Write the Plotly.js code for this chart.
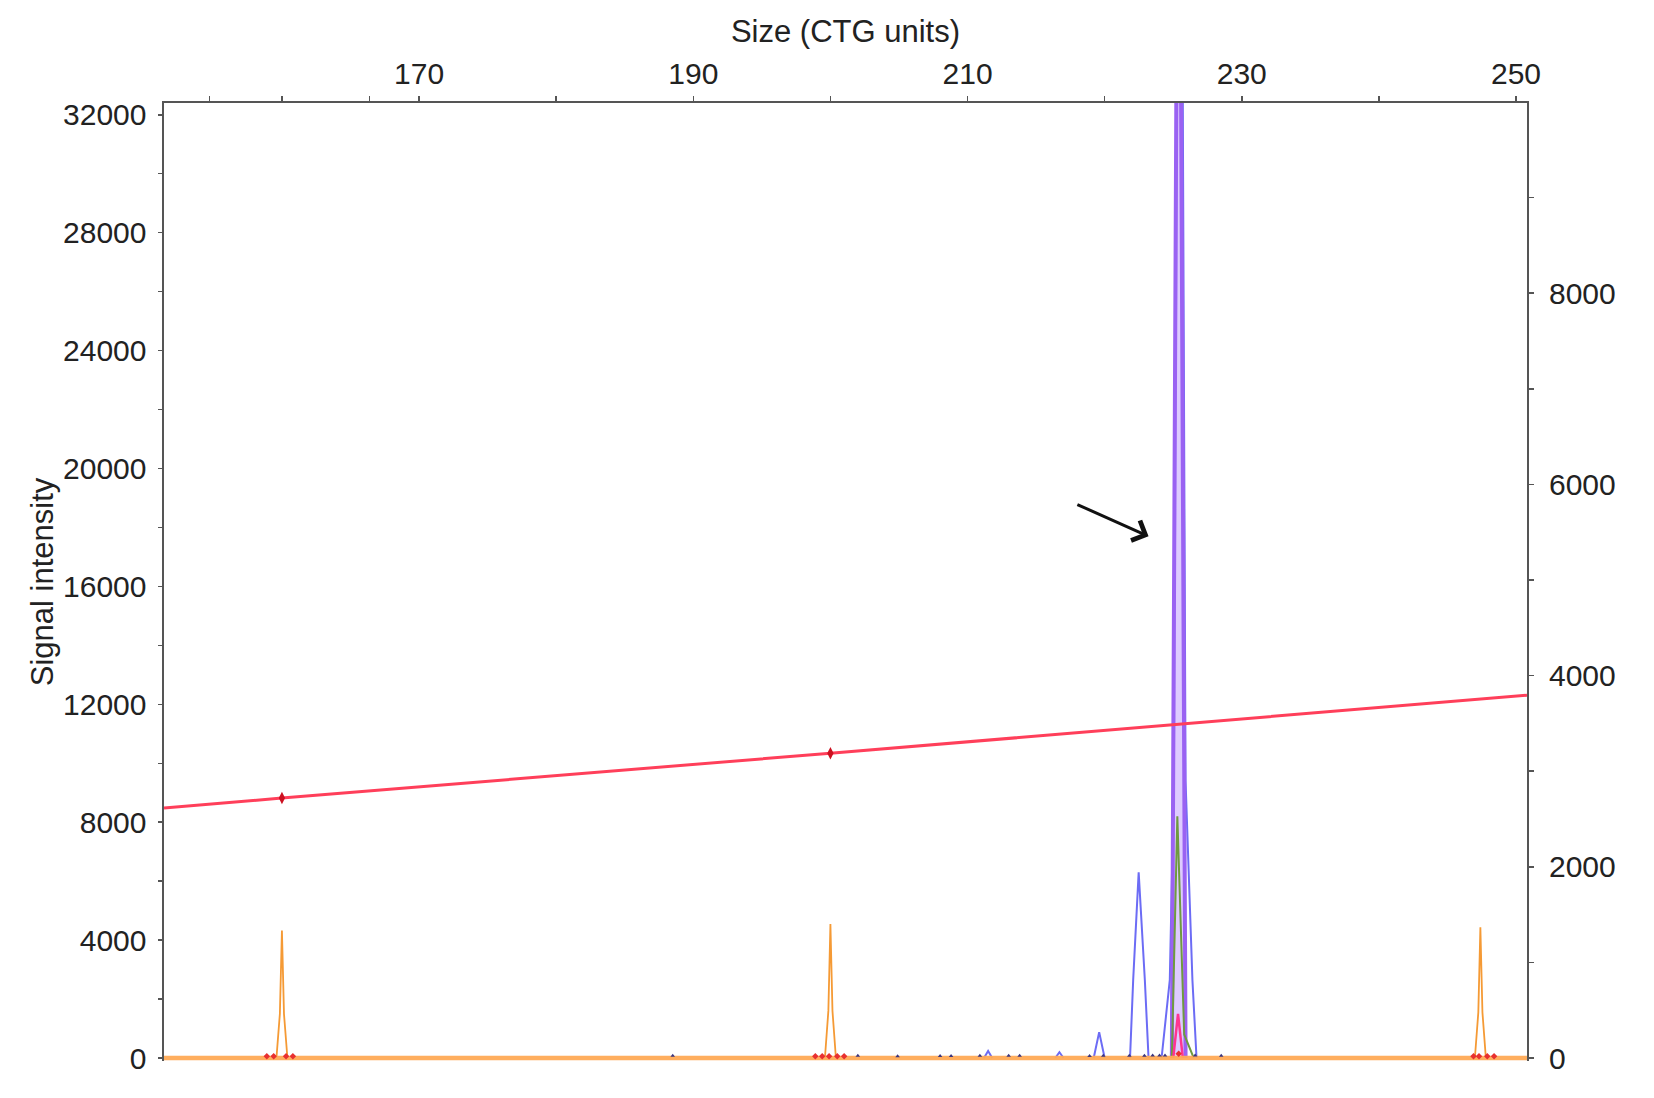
<!DOCTYPE html>
<html>
<head>
<meta charset="utf-8">
<script src="https://cdn.plot.ly/plotly-3.0.1.min.js"></script>
<style>
  html, body { margin: 0; padding: 0; background: #ffffff; }
  #chart { width: 1654px; height: 1098px; }
</style>
</head>
<body>
<div id="chart"></div>
<script>
// ---------- data ----------
const sizeRange = [151.4, 250.8];             // CTG units (top axis)
const sizeTickVals = [170, 190, 210, 230, 250];
const sizeMinorTicks = [154.7, 160, 166.4, 180, 200, 220, 240];
const signalRange = [-100, 32400];            // left axis
const signalTickVals = [0, 4000, 8000, 12000, 16000, 20000, 24000, 28000, 32000];
const rightRange = [-31, 9990];               // right axis
const rightTickVals = [0, 2000, 4000, 6000, 8000];

// size-standard (orange) peaks
const orangeX = [159.6, 159.85, 160.0, 160.15, 160.4, null, 199.6, 199.85, 200.0, 200.15, 200.4, null, 247.0, 247.25, 247.4, 247.55, 247.8];
const orangeY = [0, 1500, 4330, 1500, 0, null, 0, 1600, 4550, 1600, 0, null, 0, 1550, 4440, 1550, 0];

// baseline (orange band)
const baseX = [151.4, 250.8];
const baseY = [0, 0];

// blue sample trace (peak regions)
const blueX = [211.2, 211.5, 211.8, null, 216.4, 216.7, 217.0, null, 219.2, 219.6, 220.0, null, 221.85, 222.08, 222.48, 222.93, 223.2, null, 224.15, 224.75, 225.05, 225.5, 225.9, 226.4, 226.7];
const blueY = [0, 240, 0, null, 0, 200, 0, null, 0, 880, 0, null, 0, 2650, 6300, 2650, 0, null, 0, 2650, 9400, 55000, 9400, 2650, 0];

// purple trace (main expanded allele peak, off scale)
const purpleX = [224.9, 225.4, 225.9];
const purpleY = [0, 50000, 0];

// green trace
const greenX = [224.9, 225.3, 225.8, 226.5];
const greenY = [0, 8200, 800, 0];

// pink trace
const pinkX = [225.0, 225.35, 225.7];
const pinkY = [0, 1500, 0];

// sizing calibration line (red)
const calX = [151.4, 160, 200, 250.8];
const calY = [8480, 8820, 10340, 12310];
const calMarkX = [160, 200];
const calMarkY = [8820, 10340];

// baseline noise marks
const redNoiseX = [158.9, 159.4, 160.3, 160.8, 198.9, 199.4, 199.9, 200.5, 201.0, 225.4, 246.9, 247.3, 247.9, 248.4];
const redNoiseY = [60, 60, 60, 60, 60, 60, 60, 60, 60, 150, 60, 60, 60, 60];
const darkNoiseX = [188.5, 202.0, 204.9, 208.0, 208.8, 210.9, 213.0, 213.8, 218.9, 219.9, 221.8, 222.9, 223.5, 224.0, 224.4, 226.6, 228.5];
const darkNoiseY = [80, 80, 60, 70, 70, 80, 80, 80, 70, 80, 80, 80, 90, 90, 90, 90, 80];

// arrow annotation (tail -> head) in data units
const arrowTail = [217.9, 18800];
const arrowHead = [223.2, 17700];

// ---------- traces ----------
const traces = [
  { x: blueX, y: blueY, mode: 'lines', line: { color: '#6c6cf5', width: 2 } },
  { x: purpleX, y: purpleY, mode: 'lines', fill: 'tozeroy', fillcolor: 'rgba(205,175,255,0.65)', line: { color: '#9a62f2', width: 4 } },
  { x: greenX, y: greenY, mode: 'lines', line: { color: '#6f9a3f', width: 2 } },
  { x: pinkX, y: pinkY, mode: 'lines', line: { color: '#ff3590', width: 2.5 } },
  { x: orangeX, y: orangeY, mode: 'lines', line: { color: '#f59a35', width: 1.8 }, connectgaps: false },
  { x: baseX, y: baseY, mode: 'lines', line: { color: 'rgba(255,170,85,0.95)', width: 4.5 }, hoverinfo: 'skip' },
  { x: redNoiseX, y: redNoiseY, mode: 'markers', marker: { color: '#e83030', size: 5, symbol: 'diamond' }, hoverinfo: 'skip' },
  { x: darkNoiseX, y: darkNoiseY, mode: 'markers', marker: { color: '#3a3580', size: 4, symbol: 'triangle-up' }, hoverinfo: 'skip' },
  { x: calX, y: calY, mode: 'lines', line: { color: '#ff3f5a', width: 3 } },
  { x: calMarkX, y: calMarkY, mode: 'markers', marker: { color: '#cc1020', size: 9, symbol: 'diamond-tall' } },
  // invisible trace binding the right axis
  { x: [sizeRange[0]], y: [0], yaxis: 'y2', mode: 'markers', marker: { opacity: 0 }, hoverinfo: 'skip' }
];

const fontFam = '"Liberation Sans", Arial, Helvetica, sans-serif';
const axisLine = '#555555';

const layout = {
  width: 1654,
  height: 1098,
  margin: { l: 163.5, r: 127, t: 103, b: 37 },
  paper_bgcolor: '#ffffff',
  plot_bgcolor: '#ffffff',
  showlegend: false,
  font: { family: fontFam, size: 30, color: '#222222' },
  xaxis: {
    side: 'top',
    range: sizeRange,
    tickmode: 'array',
    tickvals: sizeTickVals,
    ticks: 'outside',
    ticklen: 5,
    tickwidth: 1.5,
    tickcolor: axisLine,
    minor: { tickmode: 'array', tickvals: sizeMinorTicks, ticks: 'outside', ticklen: 5, tickwidth: 1.5, tickcolor: axisLine },
    showline: true,
    linecolor: axisLine,
    linewidth: 2.5,
    showgrid: false,
    zeroline: false,
    tickfont: { size: 30 },
    ticklabelstandoff: 0,
    title: { text: 'Size (CTG units)', font: { size: 31 }, standoff: 5 }
  },
  yaxis: {
    range: signalRange,
    tickmode: 'array',
    tickvals: signalTickVals,
    tickformat: 'd',
    ticks: 'outside',
    ticklen: 4,
    tickwidth: 1.5,
    tickcolor: axisLine,
    minor: { tickmode: 'linear', tick0: 0, dtick: 2000, ticks: 'outside', ticklen: 4, tickwidth: 1.5, tickcolor: axisLine },
    showline: true,
    linecolor: axisLine,
    linewidth: 2.5,
    showgrid: false,
    zeroline: false,
    tickfont: { size: 30 },
    ticklabelstandoff: 5,
    title: { text: 'Signal intensity', font: { size: 31 }, standoff: 0 }
  },
  yaxis2: {
    overlaying: 'y',
    side: 'right',
    range: rightRange,
    tickmode: 'array',
    tickvals: rightTickVals,
    tickformat: 'd',
    ticks: 'outside',
    ticklen: 5,
    tickwidth: 1.5,
    tickcolor: axisLine,
    minor: { tickmode: 'linear', tick0: 0, dtick: 1000, ticks: 'outside', ticklen: 5, tickwidth: 1.5, tickcolor: axisLine },
    showline: true,
    linecolor: axisLine,
    linewidth: 2,
    showgrid: false,
    zeroline: false,
    tickfont: { size: 30 },
    ticklabelstandoff: 9
  },
  annotations: [{
    x: arrowHead[0], y: arrowHead[1], xref: 'x', yref: 'y',
    ax: arrowTail[0], ay: arrowTail[1], axref: 'x', ayref: 'y',
    text: '', showarrow: true, arrowhead: 4, arrowsize: 1.4, arrowwidth: 3, arrowcolor: '#111111'
  }]
};

Plotly.newPlot('chart', traces, layout, { displayModeBar: false, staticPlot: true });
</script>
</body>
</html>
